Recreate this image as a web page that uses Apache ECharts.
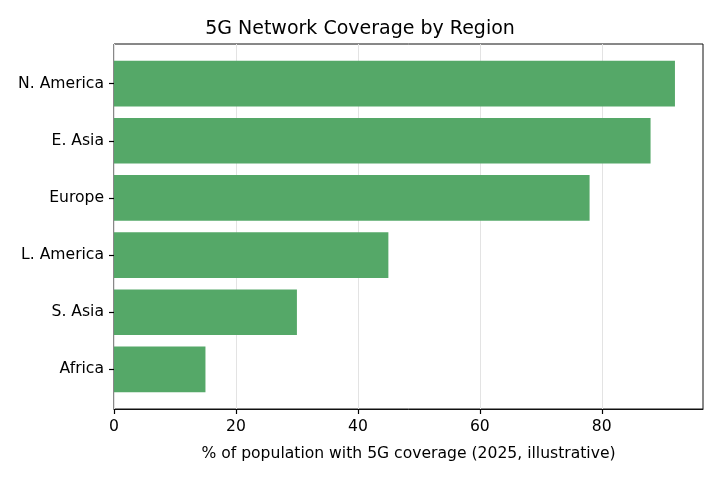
<!DOCTYPE html>
<html>
<head>
<meta charset="utf-8">
<script src="https://cdn.jsdelivr.net/npm/echarts@6/dist/echarts.min.js"></script>
<style>
  html, body { margin: 0; padding: 0; background: #fff; }
  #chart { width: 720px; height: 480px; }
</style>
</head>
<body>
<div id="chart"></div>
<script>
  const regions = ['N. America', 'E. Asia', 'Europe', 'L. America', 'S. Asia', 'Africa'];
  const coverage = [92, 88, 78, 45, 30, 15];
  const xTicks = [0, 20, 40, 60, 80];

  const font = 'DejaVu Sans';
  const xMax = 96.6;

  const chart = echarts.init(document.getElementById('chart'));

  const option = {
    animation: false,
    title: {
      text: '5G Network Coverage by Region',
      left: 'center',
      top: 15,
      textStyle: { fontFamily: font, fontSize: 19, fontWeight: 'normal', color: '#000' }
    },
    grid: [
      // frame + x axis
      { left: 114, top: 44, width: 589, height: 365, show: true, borderColor: '#111', borderWidth: 1, backgroundColor: 'transparent' },
      // bars, spaced like matplotlib
      { left: 114, top: 55, width: 589, height: 343 }
    ],
    xAxis: [
      {
        gridIndex: 0,
        type: 'value',
        min: 0,
        max: xMax,
        interval: 20,
        name: '% of population with 5G coverage (2025, illustrative)',
        nameLocation: 'middle',
        nameGap: 37,
        nameTextStyle: { fontFamily: font, fontSize: 15.6, color: '#000' },
        axisLine: { show: true, lineStyle: { color: '#111', width: 1 } },
        axisTick: { show: true, inside: false, length: 5, customValues: xTicks, lineStyle: { color: '#000', width: 1.2 } },
        axisLabel: {
          fontFamily: font, fontSize: 15.6, color: '#000', margin: 10,
          customValues: xTicks
        },
        splitLine: { show: true, lineStyle: { color: '#e3e3e3', width: 1 } }
      },
      {
        gridIndex: 1,
        type: 'value',
        min: 0,
        max: xMax,
        show: false
      }
    ],
    yAxis: [
      { gridIndex: 0, type: 'value', show: false },
      {
        gridIndex: 1,
        type: 'category',
        inverse: true,
        data: regions,
        axisLine: { show: false },
        axisTick: { show: true, alignWithLabel: true, length: 5, lineStyle: { color: '#000', width: 1.2 } },
        axisLabel: { fontFamily: font, fontSize: 15.6, color: '#000', margin: 10, padding: [3, 0, 0, 0] },
        splitLine: { show: false }
      }
    ],
    series: [
      {
        type: 'bar',
        xAxisIndex: 1,
        yAxisIndex: 1,
        data: coverage,
        barWidth: '80%',
        itemStyle: { color: '#55a868' }
      }
    ]
  };

  chart.setOption(option);
</script>
</body>
</html>
